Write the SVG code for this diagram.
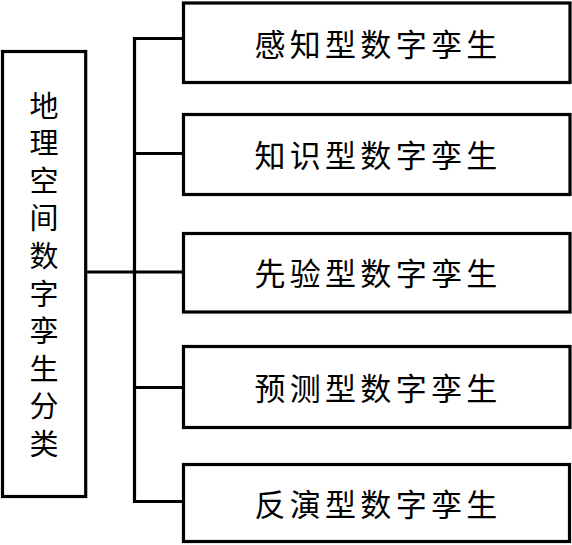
<svg xmlns="http://www.w3.org/2000/svg" width="572" height="545" viewBox="0 0 572 545">
<style>
.box{fill:#fff;stroke:#000;stroke-width:3.2}
.conn{fill:none;stroke:#000;stroke-width:3.2;stroke-linejoin:miter;stroke-linecap:butt}
.lbl{font-family:"Noto Sans CJK SC","Liberation Serif",serif;font-size:31px;fill:#000;text-anchor:middle;letter-spacing:4.3px}
.vl{font-family:"Noto Sans CJK SC","Liberation Serif",serif;font-size:29px;fill:#000;writing-mode:vertical-rl;letter-spacing:8.6px}
</style>
<rect width="572" height="545" fill="#fff"/>
<g id="connectors">
<path class="conn" d="M183.5,38.5 H134.5 V501.5 H183.5"/>
<path class="conn" d="M134.5,153.5 H183.5"/>
<path class="conn" d="M86,272 H183.5"/>
<path class="conn" d="M134.5,387.5 H183.5"/>
</g>
<g id="root">
<rect class="box" x="2.5" y="51.5" width="83.2" height="445"/>
<text class="vl" x="44" y="91">地理空间数字孪生分类</text>
</g>
<g id="n1">
<rect class="box" x="183.5" y="3" width="386.5" height="79.5"/>
<text class="lbl" x="378" y="55.5">感知型数字孪生</text>
</g>
<g id="n2">
<rect class="box" x="183.5" y="114.5" width="386.5" height="80"/>
<text class="lbl" x="378" y="167">知识型数字孪生</text>
</g>
<g id="n3">
<rect class="box" x="183.5" y="233.5" width="386.5" height="78.5"/>
<text class="lbl" x="378" y="285">先验型数字孪生</text>
</g>
<g id="n4">
<rect class="box" x="183.5" y="346.5" width="386.5" height="81"/>
<text class="lbl" x="378" y="399.5">预测型数字孪生</text>
</g>
<g id="n5">
<rect class="box" x="183.5" y="464.5" width="386" height="77"/>
<text class="lbl" x="378" y="515.5">反演型数字孪生</text>
</g>
</svg>
